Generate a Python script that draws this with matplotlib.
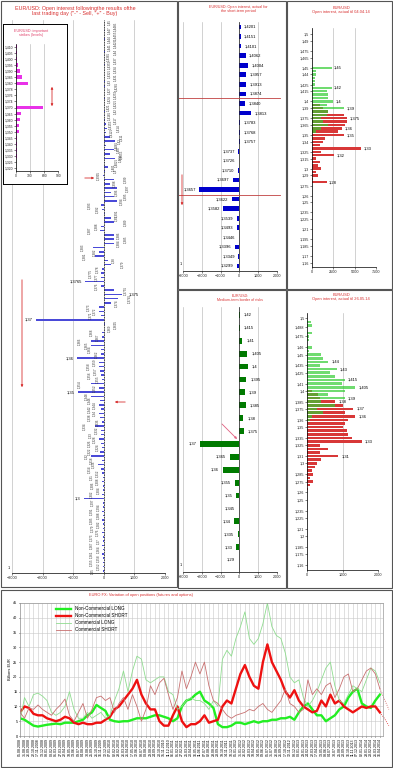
import matplotlib
matplotlib.use('Agg')
import matplotlib.pyplot as plt
from matplotlib.patches import Rectangle
import pandas as pd

plt.rcParams['font.family'] = ['Liberation Sans', 'DejaVu Sans']
plt.rcParams['axes.linewidth'] = 0.5

W, H = 393, 768
RED = '#d83030'

# ---- left panel: open interest after last trading day ----
oi_strikes = ("1,45 1,4485 1,447 1,4455 1,444 1,4425 1,441 1,44 1,4385 1,437 1,4355 1,434 "
              "1,4325 1,431 1,43 1,4285 1,427 1,4255 1,424 1,4225 1,421 1,42 1,4185 1,417 "
              "1,4155 1,414 1,4125 1,411 1,41 1,4085 1,407 1,4055 1,404 1,4025 1,401 1,4 "
              "1,3995 1,399 1,398 1,397 1,396 1,395 1,394 1,393 1,392 1,391 1,39 1,389 1,388 "
              "1,387 1,386 1,385 1,384 1,383 1,382 1,381 1,38 1,379 1,378 1,3775 1,377 1,3765 "
              "1,376 1,3755 1,375 1,3745 1,374 1,373 1,372 1,371 1,37 1,3695 1,369 1,368 1,367 "
              "1,366 1,365 1,364 1,362 1,36 1,359 1,358 1,357 1,356 1,355 1,354 1,352 1,35 "
              "1,348 1,346 1,344 1,342 1,34 1,338 1,336 1,334 1,332 1,33 1,328 1,326 1,324 "
              "1,322 1,32 1,318 1,316 1,314 1,312 1,31 1,308 1,306 1,304 1,302 1,3 1,297 1,294 "
              "1,291 1,288 1,285 1,282 1,279 1,276 1,273 1,27 1,267 1,264 1,261 1,258 1,255 "
              "1,252 1,25").split()
oi_values = [20, 15, 25, 10, 30, 20, 15, 25, 10, 20, 30, 15, 20, 10, 25, 40, 20, 15, 30, 20,
             10, 25, 40, 30, 60, 120, 80, 200, 360, 60,
             330, 200, 380, 50, 150, 30, -40, 330, 200, 420,
             250, 330, 420, -100, -60, 40, 250, 330, -80, -120,
             330, 330, 330, -350, -150, -280, 150, 250, -60, -80,
             -100, -600, -100, 330, 600, 470, 250, -150, -150, -80,
             -2200, 30, 20, -60, -60, -430, -430, -100, -80, -880,
             -150, -150, -120, -100, -60, -430, -150, -830, -430, -120,
             -150, -100, -150, -120, -60, -280, -100, -80, -150, -100,
             -60, -120, -430, -60, -200, -100, -60, -40, -50, -30,
             -40, -50, -650, -30, -40, -60, -30, -50, -40, -30,
             -50, -40, -30, -60, -40, -50, -30, -40, -30, -20]

# inset: important strikes
imp_labels = ['1,410', '1,405', '1,400', '1,395', '1,390', '1,385', '1,380', '1,378', '1,376',
              '1,374', '1,370', '1,365', '1,360', '1,355', '1,350', '1,345', '1,340', '1,335',
              '1,330', '1,325', '1,320']
imp_values = [15, 15, 25, 35, 85, 120, 265, 0, 0, 0, 565, 110, 95, 55, 70, 20, 15, 15, 15, 10, 10]

# short-term period
st_labels = ['1,4201', '1,4151', '1,4101', '1,4062', '1,4004', '1,3957', '1,3913', '1,3874',
             '1,3840', '1,3813', '1,3783', '1,3768', '1,3757', '1,3737', '1,3726', '1,3710',
             '1,3697', '1,3657', '1,3622', '1,3582', '1,3539', '1,3493', '1,3446', '1,3396',
             '1,3349', '1,3299']
st_values = [60, 60, 90, 330, 460, 360, 360, 360, 300, 620, 50, 40, 40, -60, -40, -90, -340,
             -2150, -400, -870, -150, -150, -40, -250, -60, -120]
st_levels = [7.45, 17.55]

# open interest til 04.04.14
a_call_strikes = [1.45, 1.445, 1.44, 1.435, 1.43, 1.425, 1.42, 1.415, 1.41, 1.405, 1.40, 1.395,
                  1.39, 1.385, 1.38, 1.375, 1.37, 1.365, 1.36, 1.355]
a_calls = [2300, 500, 500, 300, 300, 300, 2300, 1700, 1900, 1900, 2500, 1700, 3800, 1900, 1700,
           1100, 1300, 1900, 1100, 500]
a_put_strikes = [1.395, 1.39, 1.385, 1.38, 1.375, 1.37, 1.365, 1.36, 1.355, 1.35, 1.345, 1.34,
                 1.335, 1.33, 1.325, 1.32, 1.315, 1.31, 1.305, 1.30, 1.295, 1.29, 1.285, 1.28]
a_puts = [900, 1300, 1900, 3700, 4100, 4100, 3900, 3500, 3100, 3800, 1500, 1300, 900, 5800, 1100,
          2600, 500, 900, 700, 1100, 500, 700, 100, 1700]
a_call_tags = [1.45, 1.42, 1.40, 1.39]
a_put_tags = [1.375, 1.36, 1.35, 1.33, 1.32, 1.28]
a_ticks = ['1,5', '1,49', '1,475', '1,465', '1,45', '1,44', '1,425', '1,415', '1,4', '1,39',
           '1,375', '1,365', '1,35', '1,34', '1,325', '1,315', '1,3', '1,29', '1,275', '1,26',
           '1,25', '1,235', '1,225', '1,21', '1,195', '1,185', '1,17', '1,16']

# medium-term border of risks
mt_labels = ['1,42', '1,415', '1,41', '1,405', '1,4', '1,395', '1,39', '1,385', '1,38', '1,375',
             '1,37', '1,365', '1,36', '1,355', '1,35', '1,345', '1,34', '1,335', '1,33', '1,29']
mt_values = [30, 30, 150, 420, 450, 360, 290, 330, 200, 230, -2080, -480, -880, -210, -160, -40,
             -270, -70, -160, -40]

# open interest til 26.05.14
b_call_strikes = [1.495, 1.49, 1.48, 1.475, 1.47, 1.46, 1.455, 1.45, 1.445, 1.44, 1.435, 1.43,
                  1.425, 1.42, 1.415, 1.41, 1.405, 1.40, 1.395, 1.39, 1.385, 1.38, 1.375, 1.37,
                  1.365, 1.36]
b_calls = [100, 120, 120, 60, 60, 120, 40, 400, 450, 600, 350, 830, 650, 800, 1070, 980, 1360,
           1070, 600, 1070, 400, 790, 270, 450, 120, 80]
b_put_strikes = [1.40, 1.395, 1.39, 1.385, 1.38, 1.375, 1.37, 1.365, 1.36, 1.355, 1.35, 1.345,
                 1.34, 1.335, 1.33, 1.325, 1.32, 1.315, 1.31, 1.305, 1.30, 1.295, 1.29, 1.285,
                 1.28, 1.275, 1.27, 1.265]
b_puts = [120, 310, 360, 790, 1020, 1310, 1070, 1360, 1170, 1070, 1020, 1120, 1170, 1260, 1550,
          360, 600, 360, 880, 400, 270, 220, 120, 170, 80, 170, 80, 30]
b_call_tags = [(1.44, '1,44'), (1.43, '1,43'), (1.415, '1,415'), (1.405, '1,405'), (1.39, '1,39')]
b_put_tags = [(1.385, '1,38'), (1.375, '1,37'), (1.365, '1,36'), (1.33, '1,33'), (1.31, '1,31')]
b_ticks = ['1,5', '1,488', '1,475', '1,46', '1,45', '1,435', '1,425', '1,41', '1,4', '1,385',
           '1,375', '1,36', '1,35', '1,335', '1,325', '1,31', '1,3', '1,285', '1,275', '1,26',
           '1,25', '1,235', '1,225', '1,21', '1,2', '1,185', '1,175', '1,16']

# EURO FX positions (billions EUR)
nc_long = [6, 5.5, 4.5, 3.5, 3.2, 3.5, 3.8, 4, 4.2, 4, 4.5, 4.5, 4.5, 5, 5.5, 7, 8, 10.5, 9.5, 8.5,
           5.5, 5, 4.8, 5, 5, 5.5, 6, 6, 6, 6.5, 7, 7, 6.5, 6, 5, 6, 10, 12, 12.5, 14, 15, 12, 11,
           9.5, 4, 3, 3, 3.5, 4.5, 4.5, 4, 4.5, 5, 4.5, 5, 5, 5.5, 5.5, 6, 6, 6.5, 5.5, 8, 10, 11,
           9, 7, 7, 5, 6, 7, 9, 10, 13, 15, 16, 11, 10, 9.5, 12, 14]
nc_short = [8, 10, 9.5, 7.5, 7, 7, 6, 5.5, 5, 5.5, 6.5, 6, 4.5, 4, 4.5, 4, 4, 4.5, 4.5, 5.5, 6.5,
            9, 10, 12, 14, 16, 19, 14, 11, 9, 9, 5, 3.5, 3.5, 7, 10, 5, 3, 4, 4, 5, 7, 4.5, 5,
            5.5, 10, 12, 11, 16, 21, 24, 20, 17, 16, 25, 31, 25, 22, 19, 15, 13, 15.5, 12, 10, 9,
            8, 8.5, 12, 10, 14, 11, 12, 10, 9, 8, 9, 10, 9.5, 10, 10, 8]
c_long = [5, 13, 10, 14, 14.5, 13.5, 12, 8, 7, 8, 10, 15, 9, 6, 6, 8, 6, 7, 8, 6, 7, 12, 16, 22,
          15, 22, 27, 26, 19, 18, 19, 20, 20, 15, 14, 9, 10, 12, 13, 12, 12, 11, 9, 12, 10, 26, 29,
          27, 33, 37, 42, 33, 31, 33, 38, 45, 37, 34, 33, 28, 20, 18, 19, 13, 10, 12, 15, 19, 23,
          25, 17, 12, 11, 14, 17, 16, 15, 19, 23, 22, 18]
c_short = [8, 6, 9.5, 9, 10.5, 9, 8, 7, 9, 10.5, 12.5, 7, 5, 8, 11, 6, 9, 13, 13.5, 12, 13, 8, 11,
           13, 9, 14, 10, 5, 9, 17, 14, 18, 19.5, 14, 9, 13, 22, 16, 20, 25, 21, 25, 17, 12, 11, 9,
           7, 6, 7, 7.5, 8, 9, 8.5, 10, 11, 9, 8, 10, 12, 16, 11, 10, 8, 9, 19, 14, 16, 14, 17, 18,
           13, 16, 20, 21, 15, 16, 19, 22, 23, 21, 16]
c_short_fc = [16, 12.5, 9]
nc_short_fc = [8, 6, 3.5]
cot_dates = pd.date_range('2008-08-05', periods=len(nc_long), freq='26D').strftime('%d.%m.%Y').tolist()


def ax_px(x0, y0, x1, y1, **kw):
    return fig.add_axes([x0 / W, 1 - y1 / H, (x1 - x0) / W, (y1 - y0) / H], **kw)


def num(s):
    return float(s.replace(',', '.'))


def tag(v):
    return f'{v:g}'.replace('.', ',')


def style(ax, fs=2.7):
    ax.tick_params(labelsize=fs, length=1.2, width=0.4, pad=0.8, colors='#222222')
    for s in ['top', 'right']:
        ax.spines[s].set_visible(False)
    ax.grid(axis='x', color='#b8b8b8', lw=0.45)
    ax.set_axisbelow(True)


fig = plt.figure(figsize=(W / 100, H / 100), dpi=100)

# panel frames
for x0, y0, x1, y1 in [(1, 1, 177, 587), (178, 1, 286, 289), (287, 1, 392, 289),
                       (178, 290, 286, 588), (287, 290, 392, 588), (1, 590, 392, 767)]:
    fig.add_artist(Rectangle((x0 / W, 1 - y1 / H), (x1 - x0) / W, (y1 - y0) / H,
                             transform=fig.transFigure, fill=False, ec='#555555', lw=0.8))

# ---- left main chart ----
ax = ax_px(12, 20, 165, 573)
rows = range(len(oi_values))
ax.barh(rows, oi_values, height=0.35, color='#4a4ad8')
ax.set_xlim(-3000, 2000)
ax.set_ylim(len(oi_values) - 0.5, -0.5)
ax.set_xticks([-3000, -2000, -1000, 0, 1000, 2000])
ax.set_yticks([])
style(ax)
ax.spines['left'].set_visible(False)
ax.axvline(0, color='#333333', lw=0.6, ls=(0, (2, 1)))
ax.text(-0.015, 0.005, '1', transform=ax.transAxes, ha='right', va='bottom', fontsize=2.7)
for i, (s, v) in enumerate(zip(oi_strikes, oi_values)):
    if abs(v) >= 500:
        if v < 0:
            ax.text(v - 120, i, s, ha='right', va='center', fontsize=3)
        else:
            ax.text(v + 200, i, s, ha='left', va='center', fontsize=3)
    else:
        off = 150 if i % 2 == 0 else 360
        x = v + off if v >= 0 else v - off
        ax.text(x, i, s, rotation=90, ha='center', va='center', fontsize=2.2, color='#333333')

arrow = dict(arrowstyle='-|>', color=RED, lw=0.6, mutation_scale=3)
ax.annotate('', xy=(97, H - 178), xytext=(82, H - 178), xycoords='figure pixels',
            arrowprops=arrow, annotation_clip=False)
ax.annotate('', xy=(112, H - 402), xytext=(128, H - 402), xycoords='figure pixels',
            arrowprops=arrow, annotation_clip=False)
ax.annotate('', xy=(22, H - 390), xytext=(22, H - 277), xycoords='figure pixels',
            arrowprops=arrow, annotation_clip=False)
fig.text(75 / W, 1 - 11 / H, 'EUR/USD: Open interest followingthe results ofthe\n'
         'last trading day ("-" - Sell, "+" - Buy)', ha='center', va='center',
         fontsize=3.9, color=RED, linespacing=1.1)

# inset
box = ax_px(3, 24, 67, 184)
box.set_xticks([])
box.set_yticks([])
for s in box.spines.values():
    s.set_linewidth(0.7)
ins = ax_px(16, 43.7, 58.3, 171.3)
ins.barh(range(len(imp_values)), imp_values, height=0.55, color='#e832e8')
ins.set_xlim(0, 900)
ins.set_ylim(len(imp_values) - 0.5, -0.5)
ins.set_xticks([0, 300, 600, 900])
ins.set_yticks(range(len(imp_labels)))
ins.set_yticklabels(imp_labels)
style(ins, 2.4)
ins.annotate('', xy=(52, H - 84), xytext=(52, H - 109), xycoords='figure pixels',
             arrowprops=dict(arrowstyle='<|-|>', color=RED, lw=0.6, mutation_scale=3),
             annotation_clip=False)
fig.text(31 / W, 1 - 33 / H, 'EUR/USD: important\nstrikes (levels)', ha='center', va='center',
         fontsize=2.7, color='#e0406a', linespacing=1.1)

# ---- short-term period ----
ax = ax_px(183, 22, 277, 271)
ax.barh(range(len(st_values)), st_values, height=0.5, color='#0000cc')
ax.set_xlim(-3000, 2000)
ax.set_ylim(len(st_values) - 0.48, -0.52)
ax.set_xticks([-3000, -2000, -1000, 0, 1000, 2000])
ax.set_yticks([])
style(ax)
ax.spines['left'].set_visible(False)
ax.axvline(0, color='#222222', lw=0.5)
ax.text(-0.01, 0.02, '1', transform=ax.transAxes, ha='right', va='bottom', fontsize=2.7)
for i, (s, v) in enumerate(zip(st_labels, st_values)):
    if v >= 0:
        ax.text(v + 180, i, s, ha='left', va='center', fontsize=3)
    else:
        ax.text(v - 180, i, s, ha='right', va='center', fontsize=3)
for lv in st_levels:
    ax.plot([-3250, 2150], [lv, lv], color='#c04040', lw=0.6, clip_on=False)
ax.annotate('', xy=(182, H - 208), xytext=(182, H - 172), xycoords='figure pixels',
            arrowprops=arrow, annotation_clip=False)
fig.text(238 / W, 1 - 9 / H, 'EUR/USD: Open interest, actual for\nthe short-term period',
         ha='center', va='center', fontsize=2.7, color=RED, linespacing=1.1)

# ---- open interest til 04.04.14 ----
ax = ax_px(312, 28, 376, 267)
ax.barh(a_put_strikes, a_puts, height=0.0036, color='#d83838')
ax.barh(a_call_strikes, a_calls, height=0.0036, color='#33cc33', alpha=0.7)
ax.set_xlim(0, 7500)
ax.set_ylim(1.154, 1.509)
ax.set_xticks([0, 2500, 5000, 7500])
ax.set_yticks([num(t) for t in a_ticks])
ax.set_yticklabels(a_ticks)
style(ax)
for s, v in zip(a_call_strikes, a_calls):
    if s in a_call_tags:
        ax.text(v + 300, s, tag(s), ha='left', va='center', fontsize=3)
for s, v in zip(a_put_strikes, a_puts):
    if s in a_put_tags:
        ax.text(v + 300, s, tag(s), ha='left', va='center', fontsize=3)
fig.text(341 / W, 1 - 10 / H, 'EUR/USD\nOpen interest, actual til 04.04.14', ha='center',
         va='center', fontsize=2.9, color=RED, linespacing=1.1)

# ---- medium-term border of risks ----
ax = ax_px(183, 307, 277, 572)
ax.barh(range(len(mt_values)), mt_values, height=0.45, color='#007a00')
ax.set_xlim(-3000, 2000)
ax.set_ylim(19.93, -0.62)
ax.set_xticks([-3000, -2000, -1000, 0, 1000, 2000])
ax.set_yticks([])
style(ax)
ax.spines['left'].set_visible(False)
ax.axvline(0, color='#222222', lw=0.5)
ax.text(-0.01, 0.02, '1', transform=ax.transAxes, ha='right', va='bottom', fontsize=2.7)
for i, (s, v) in enumerate(zip(mt_labels, mt_values)):
    if v >= 0:
        ax.text(v + 220, i, s, ha='left', va='center', fontsize=3)
    else:
        ax.text(v - 220, i, s, ha='right', va='center', fontsize=3)
ax.annotate('', xy=(239, H - 441), xytext=(220, H - 422), xycoords='figure pixels',
            arrowprops=dict(arrowstyle='-|>', color='#e06080', lw=0.6, mutation_scale=3),
            annotation_clip=False)
fig.text(240 / W, 1 - 298 / H, 'EUR/USD:\nMedium-term border of risks', ha='center',
         va='center', fontsize=2.6, color=RED, linespacing=1.1)

# ---- open interest til 26.05.14 ----
ax = ax_px(307.3, 313, 377.7, 570)
ax.barh(b_put_strikes, b_puts, height=0.0036, color='#d83838')
ax.barh(b_call_strikes, b_calls, height=0.0036, color='#33cc33', alpha=0.7)
ax.set_xlim(0, 2000)
ax.set_ylim(1.1531, 1.5073)
ax.set_xticks([0, 1000, 2000])
ax.set_yticks([num(t) for t in b_ticks])
ax.set_yticklabels(b_ticks)
style(ax)
for s, v in zip(b_call_strikes, b_calls):
    for ts, tt in b_call_tags:
        if s == ts:
            ax.text(v + 90, s, tt, ha='left', va='center', fontsize=3)
for s, v in zip(b_put_strikes, b_puts):
    for ts, tt in b_put_tags:
        if s == ts:
            ax.text(v + 90, s, tt, ha='left', va='center', fontsize=3)
fig.text(341 / W, 1 - 297 / H, 'EUR/USD\nOpen interest, actual til 26.05.14', ha='center',
         va='center', fontsize=2.9, color=RED, linespacing=1.1)

# ---- EURO FX positions ----
ax = ax_px(20, 603, 383, 736)
x = range(len(nc_long))
ax.plot(x, nc_long, color='#22ee22', lw=1.7, label='Non-Commercial LONG')
ax.plot(x, nc_short, color='#ee1111', lw=1.7, label='Non-Commercial SHORT')
ax.plot(x, c_long, color='#8fdc8f', lw=0.6, label='Commercial LONG')
ax.plot(x, c_short, color='#c87070', lw=0.6, label='Commercial SHORT')
n = len(nc_long) - 1
ax.plot(range(n, n + len(c_short_fc)), c_short_fc, color='#c85050', lw=0.6, ls=':', clip_on=False)
ax.plot(range(n, n + len(nc_short_fc)), nc_short_fc, color='#dd2222', lw=0.6, ls=':', clip_on=False)
ax.set_xlim(0, n + 0.7)
ax.set_ylim(0, 45)
ax.set_yticks(range(0, 50, 5))
ax.set_xticks(list(x))
ax.set_xticklabels(cot_dates, rotation=90)
ax.tick_params(labelsize=2.7, length=1, width=0.4, pad=0.8)
ax.tick_params(axis='x', labelsize=2.6)
ax.grid(color='#c8c8c8', lw=0.4)
ax.set_axisbelow(True)
for s in ax.spines.values():
    s.set_color('#999999')
    s.set_linewidth(0.5)
ax.set_ylabel('Billions EUR', fontsize=2.8, labelpad=1)
ax.legend(loc='upper left', bbox_to_anchor=(0.09, 1.0), frameon=False, fontsize=3.3,
          handlelength=3.3, labelspacing=0.45, borderpad=0.2)
fig.text(141 / W, 1 - 595 / H, 'EURO FX: Variation of open positions (futures and options)',
         ha='center', va='center', fontsize=2.9, color=RED)

fig.savefig('out.png', dpi=100)
